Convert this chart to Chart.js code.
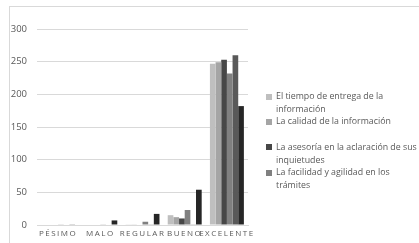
<!DOCTYPE html>
<html>
<head>
<meta charset="utf-8">
<script src="https://cdn.jsdelivr.net/npm/chart.js@4/dist/chart.umd.min.js"></script>
<style>
  html, body { margin: 0; padding: 0; background: #fff; }
  #wrap { position: relative; width: 419px; height: 243px; overflow: hidden; }
  #frame { position: absolute; left: 9px; top: 6px; width: 500px; height: 300px; border: 1px solid #d9d9d9; box-sizing: border-box; }
  canvas { position: absolute; left: 0; top: 0; }
  #legend { position: absolute; left: 266px; top: 90px; font-family: "Open Sans", sans-serif; font-size: 8.8px; color: #595959; line-height: 12.7px; }
  .item { position: relative; padding-left: 10px; white-space: nowrap; }
  .mk { position: absolute; left: 0; top: 3.5px; width: 6px; height: 6px; }
  .gap { height: 12.7px; }
</style>
</head>
<body>
<div id="wrap">
  <div id="frame"></div>
  <canvas id="c" width="419" height="243"></canvas>
  <div id="legend"></div>
</div>
<script>
const categories = ["PÉSIMO", "MALO", "REGULAR", "BUENO", "EXCELENTE"];
const seriesNames = [
  "El tiempo de entrega de la información",
  "La calidad de la información",
  "La asesoría en la aclaración de sus inquietudes",
  "La facilidad y agilidad en los trámites",
  "Serie 5",
  "Serie 6"
];
const s1 = [0, 0, 1, 15, 247];
const s2 = [0, 0, 1, 12, 249];
const s3 = [0, 0, 0, 10, 253];
const s4 = [1, 1, 5, 23, 232];
const s5 = [0, 0, 1, 1, 260];
const s6 = [1, 7, 17, 54, 182];
const yTicks = [0, 50, 100, 150, 200, 250, 300];

// legend lines as shown in the reference (wrapped text)
const legendLines = [
  ["El tiempo de entrega de la", "información"],
  ["La calidad de la información"],
  null,
  ["La asesoría en la aclaración de sus", "inquietudes"],
  ["La facilidad y agilidad en los", "trámites"]
];
const colors = ["#bfbfbf", "#a5a5a5", "#474747", "#808080", "#595959", "#262626"];

const allSeries = [s1, s2, s3, s4, s5, s6];
const datasets = allSeries.map((d, i) => ({
  label: seriesNames[i],
  data: d,
  backgroundColor: colors[i],
  borderWidth: 0,
  categoryPercentage: 0.805,
  barPercentage: 1
}));

const letterSpacingPlugin = {
  id: 'xLetterSpacing',
  afterLayout(chart) {
    const sc = chart.scales.x;
    if (sc && !sc._lsWrapped) {
      const orig = sc.drawLabels.bind(sc);
      sc.drawLabels = function (area) {
        const ctx = chart.ctx;
        ctx.save();
        ctx.letterSpacing = '1.5px';
        orig(area);
        ctx.restore();
      };
      sc._lsWrapped = true;
    }
  }
};

new Chart(document.getElementById('c'), {
  type: 'bar',
  data: { labels: categories, datasets },
  options: {
    responsive: false,
    animation: false,
    layout: { padding: { top: 29, right: 171, left: 0, bottom: 0 } },
    plugins: { legend: { display: false }, tooltip: { enabled: false } },
    scales: {
      x: {
        grid: { display: false, drawTicks: false },
        border: { display: true, color: '#d9d9d9', width: 1 },
        ticks: {
          autoSkip: false, maxRotation: 0, minRotation: 0, padding: 4,
          color: '#595959', font: { family: 'Open Sans', size: 8 }
        },
        afterFit(s) { s.height = 18; }
      },
      y: {
        min: 0, max: 300,
        afterBuildTicks(s) { s.ticks = yTicks.map(v => ({ value: v })); },
        grid: { color: '#d9d9d9', drawTicks: false },
        border: { display: false },
        ticks: {
          padding: 10, color: '#595959',
          font: { family: 'Open Sans', size: 9.5 }
        },
        afterFit(s) { s.width = 37; }
      }
    }
  },
  plugins: [letterSpacingPlugin]
});

const lg = document.getElementById('legend');
legendLines.forEach((lines, i) => {
  if (!lines) { const g = document.createElement('div'); g.className = 'gap'; lg.appendChild(g); return; }
  const idx = i > 2 ? i - 1 : i;
  const it = document.createElement('div');
  it.className = 'item';
  const mk = document.createElement('span');
  mk.className = 'mk';
  mk.style.background = colors[idx];
  it.appendChild(mk);
  lines.forEach((t) => {
    const l = document.createElement('div');
    l.textContent = t;
    it.appendChild(l);
  });
  lg.appendChild(it);
});
</script>
</body>
</html>
